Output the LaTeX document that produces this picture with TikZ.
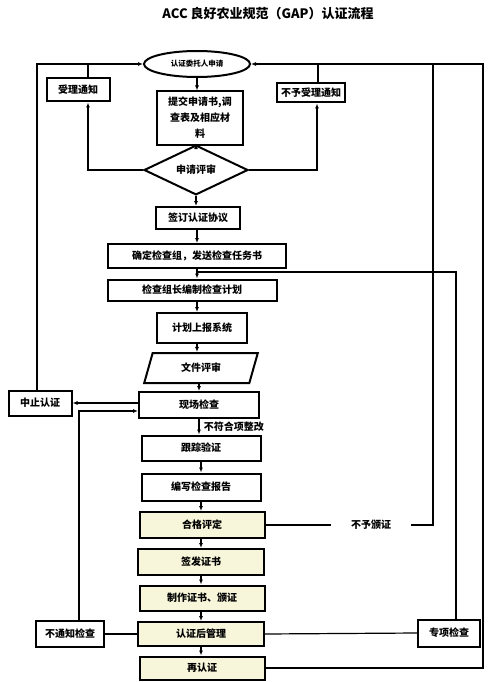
\documentclass[tikz,border=0pt]{standalone}
\usepackage{fontspec}
\setmainfont{Noto Sans CJK SC}
\usetikzlibrary{shapes.geometric,arrows.meta}
\definecolor{cream}{HTML}{F8F6DA}
\tikzset{
  base/.style={draw, line width=2pt, inner sep=1pt, align=center,
    font=\bfseries\fontsize{10}{16}\selectfont},
  box/.style={base, rectangle},
  fbox/.style={box, fill=cream},
  ln/.style={line width=1.2pt},
  arr/.style={ln, -{Latex[length=5pt,width=4pt]}},
}
\begin{document}
\begin{tikzpicture}[x=1pt,y=-1pt]
\useasboundingbox (0,0) rectangle (493,682);
\node[font=\bfseries\fontsize{13}{15}\selectfont] (title) at (268,14) {ACC 良好农业规范（GAP）认证流程};
\node[base, ellipse, minimum width=106, minimum height=26, inner sep=0pt, font=\bfseries\fontsize{7.5}{9}\selectfont] (app) at (197,64) {认证委托人申请};
\node[box, minimum width=63, minimum height=23] (accept) at (78,90) {受理通知};
\node[box, minimum width=86, minimum height=53] (submit) at (200,118) {提交申请书,调\\查表及相应材\\料};
\node[box, minimum width=68, minimum height=19] (reject) at (311,93) {不予受理通知};
\node[base, diamond, minimum width=104, minimum height=35, inner sep=0pt] (review) at (196,170) {申请评审};
\node[box, minimum width=84, minimum height=22] (sign) at (198,218) {签订认证协议};
\node[box, minimum width=178, minimum height=24] (team) at (197,256) {确定检查组，发送检查任务书};
\node[box, minimum width=169, minimum height=21] (plan) at (192,290) {检查组长编制检查计划};
\node[box, minimum width=90, minimum height=30] (sys) at (202,328) {计划上报系统};
\node[base, trapezium, trapezium left angle=70, trapezium right angle=110, trapezium stretches=true, minimum width=114, minimum height=30, inner sep=0pt] (doc) at (201,368) {文件评审};
\node[box, minimum width=120, minimum height=26] (site) at (199,405) {现场检查};
\node[box, minimum width=63, minimum height=25] (stop) at (40,403) {中止认证};
\node[box, minimum width=119, minimum height=25] (follow) at (201,448) {跟踪验证};
\node[box, minimum width=119, minimum height=27] (write) at (201,487) {编写检查报告};
\node[fbox, minimum width=125, minimum height=26] (judge) at (202,525) {合格评定};
\node[fbox, minimum width=126, minimum height=26] (issue) at (201,562) {签发证书};
\node[fbox, minimum width=125, minimum height=25] (make) at (202,598) {制作证书、颁证};
\node[fbox, minimum width=126, minimum height=24] (manage) at (201,634) {认证后管理};
\node[fbox, minimum width=125, minimum height=23] (renew) at (202,668) {再认证};
\node[box, minimum width=68, minimum height=26] (surprise) at (70,634) {不通知检查};
\node[box, minimum width=62, minimum height=27] (special) at (449,633) {专项检查};
\coordinate (R) at (483,64);
\coordinate (J) at (433,64);
\coordinate (T) at (197,272);
% top part
\draw[arr] (app.south) -- (app.south |- submit.north);
\draw[arr] (submit.south -| review.north) -- (review.north);
\draw[arr] (review.west) -| ([xshift=10pt]accept.south);
\draw[arr] (review.east) -| ([xshift=6pt]reject.south);
\draw[ln] ([xshift=10pt]accept.north) -- ([xshift=10pt]accept.north |- app.west);
\draw[ln] ([xshift=7pt]reject.north) -- ([xshift=7pt]reject.north |- app.east);
\draw[arr] ([xshift=-3pt]stop.north) |- (app.west);
\draw[arr] (renew.east) -| (R) -- (app.east);
\draw[ln] (judge.east) -- node[pos=0.63, fill=white, minimum width=80, inner sep=0pt, font=\bfseries\fontsize{10}{12}\selectfont] {不予颁证} (433,525) -- (J);
% main chain
\draw[arr] (review.south) -- (review.south |- sign.north);
\draw[arr] (sign.south -| team.north) -- (team.north);
\draw[arr] (team.south) -- (team.south |- plan.north);
\draw[ln] ([xshift=7pt]special.north) |- (T);
\draw[arr] (plan.south -| T) -- (T |- sys.north);
\draw[arr] (sys.south -| T) -- (T |- doc.north);
\draw[arr] (doc.south -| site.north) -- (site.north);
\draw[arr] ([yshift=2pt]site.west) -- ([yshift=2pt]site.west -| stop.east);
\draw[arr] ([xshift=9pt]surprise.north) |- ([yshift=-6pt]site.west);
\draw[arr] (site.south) -- node[right=1pt, font=\bfseries\fontsize{10}{12}\selectfont] {不符合项整改} (site.south |- follow.north);
\draw[arr] (follow.south) -- (write.north);
\draw[arr] (write.south) -- (write.south |- judge.north);
\draw[arr] (judge.south -| write.south) -- (write.south |- issue.north);
\draw[arr] (issue.south) -- (issue.south |- make.north);
\draw[arr] (make.south -| issue.south) -- (issue.south |- manage.north);
\draw[arr] (manage.south) -- (manage.south |- renew.north);
\draw[ln] (manage.west) -- (surprise.east);
\draw[ln] (manage.east) -- (special.west);
\end{tikzpicture}
\end{document}
